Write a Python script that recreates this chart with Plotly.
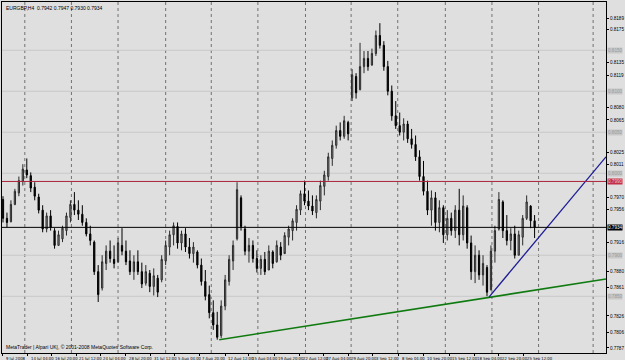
import plotly.graph_objects as go

# ---------------- data (EURGBP, H4; bars) ----------------
bar_open = [0.7968,0.7945,0.7941,0.7962,0.7976,0.7990,0.8004,0.7997,0.7983,0.7971,
            0.7955,0.7932,0.7948,0.7930,0.7912,0.7920,0.7930,0.7946,0.7962,0.7955,
            0.7950,0.7940,0.7926,0.7916,0.7880,0.7860,0.7890,0.7905,0.7895,0.7892,
            0.7912,0.7905,0.7893,0.7880,0.7892,0.7880,0.7866,0.7878,0.7862,0.7872,
            0.7870,0.7893,0.7910,0.7925,0.7935,0.7915,0.7926,0.7910,0.7902,0.7904,
            0.7888,0.7868,0.7852,0.7830,0.7815,0.7802,0.7838,0.7868,0.7893,0.7920,
            0.7970,0.7932,0.7905,0.7912,0.7896,0.7884,0.7895,0.7882,0.7904,0.7892,
            0.7910,0.7902,0.7922,0.7930,0.7940,0.7955,0.7975,0.7966,0.7960,0.7952,
            0.7966,0.7984,0.7996,0.8018,0.8034,0.8052,0.8045,0.8062,0.8092,0.8118,
            0.8102,0.8130,0.8140,0.8132,0.8146,0.8168,0.8156,0.8130,0.8100,0.8070,
            0.8058,0.8050,0.8060,0.8042,0.8035,0.8020,0.7996,0.7978,0.7955,0.7970,
            0.7940,0.7958,0.7925,0.7945,0.7930,0.7955,0.7925,0.7958,0.7915,0.7880,
            0.7900,0.7876,0.7885,0.7858,0.7905,0.7932,0.7965,0.7930,0.7918,0.7926,
            0.7900,0.7922,0.7945,0.7960,0.7942]
bar_high = [0.7972,0.7952,0.7967,0.7981,0.7996,0.8011,0.8018,0.8001,0.7989,0.7975,
            0.7961,0.7952,0.7955,0.7933,0.7930,0.7936,0.7952,0.7967,0.7977,0.7967,
            0.7961,0.7945,0.7936,0.7918,0.7888,0.7900,0.7912,0.7918,0.7912,0.7921,
            0.7933,0.7918,0.7906,0.7900,0.7906,0.7891,0.7888,0.7882,0.7884,0.7876,
            0.7900,0.7918,0.7930,0.7940,0.7940,0.7930,0.7933,0.7921,0.7916,0.7906,
            0.7896,0.7882,0.7863,0.7845,0.7831,0.7845,0.7876,0.7900,0.7918,0.7989,
            0.7973,0.7936,0.7921,0.7918,0.7906,0.7900,0.7904,0.7912,0.7906,0.7918,
            0.7916,0.7928,0.7936,0.7945,0.7961,0.7979,0.7991,0.7979,0.7973,0.7973,
            0.7991,0.8003,0.8025,0.8040,0.8058,0.8062,0.8070,0.8064,0.8127,0.8122,
            0.8159,0.8149,0.8149,0.8152,0.8174,0.8183,0.8161,0.8137,0.8107,0.8088,
            0.8074,0.8067,0.8064,0.8054,0.8046,0.8028,0.8015,0.7991,0.7979,0.7977,
            0.7967,0.7961,0.7955,0.7952,0.7961,0.7981,0.7973,0.7961,0.7924,0.7912,
            0.7906,0.7900,0.7888,0.7912,0.7936,0.7977,0.7967,0.7949,0.7933,0.7936,
            0.7930,0.7949,0.7973,0.7961,0.7949]
bar_low = [0.7940,0.7934,0.7940,0.7961,0.7972,0.7985,0.7994,0.7977,0.7967,0.7951,
           0.7928,0.7928,0.7930,0.7908,0.7912,0.7916,0.7924,0.7940,0.7949,0.7943,
           0.7936,0.7923,0.7912,0.7876,0.7843,0.7857,0.7882,0.7891,0.7884,0.7891,
           0.7900,0.7888,0.7876,0.7870,0.7876,0.7860,0.7863,0.7855,0.7851,0.7849,
           0.7867,0.7888,0.7900,0.7912,0.7908,0.7906,0.7904,0.7896,0.7891,0.7884,
           0.7863,0.7845,0.7823,0.7809,0.7797,0.7799,0.7833,0.7863,0.7882,0.7918,
           0.7930,0.7900,0.7891,0.7891,0.7879,0.7876,0.7876,0.7882,0.7884,0.7891,
           0.7894,0.7904,0.7912,0.7918,0.7930,0.7949,0.7961,0.7955,0.7949,0.7945,
           0.7955,0.7973,0.7991,0.8009,0.8030,0.8040,0.8042,0.8040,0.8088,0.8091,
           0.8101,0.8122,0.8125,0.8131,0.8143,0.8152,0.8125,0.8095,0.8064,0.8054,
           0.8046,0.8040,0.8037,0.8030,0.8015,0.7991,0.7973,0.7949,0.7936,0.7930,
           0.7928,0.7915,0.7918,0.7924,0.7921,0.7912,0.7918,0.7908,0.7870,0.7866,
           0.7870,0.7863,0.7850,0.7857,0.7891,0.7930,0.7921,0.7912,0.7906,0.7896,
           0.7900,0.7912,0.7943,0.7933,0.7921]
bar_close = [0.7945,0.7940,0.7962,0.7978,0.7991,0.8005,0.7998,0.7982,0.7972,0.7955,
             0.7932,0.7948,0.7934,0.7912,0.7925,0.7933,0.7948,0.7962,0.7955,0.7950,
             0.7940,0.7926,0.7918,0.7880,0.7852,0.7892,0.7905,0.7896,0.7890,0.7915,
             0.7905,0.7892,0.7880,0.7892,0.7880,0.7865,0.7880,0.7862,0.7875,0.7855,
             0.7895,0.7912,0.7925,0.7936,0.7915,0.7926,0.7910,0.7902,0.7910,0.7888,
             0.7868,0.7850,0.7830,0.7815,0.7800,0.7838,0.7870,0.7895,0.7912,0.7980,
             0.7935,0.7905,0.7912,0.7896,0.7884,0.7895,0.7880,0.7905,0.7890,0.7912,
             0.7900,0.7924,0.7932,0.7942,0.7956,0.7975,0.7966,0.7960,0.7954,0.7968,
             0.7985,0.7998,0.8020,0.8034,0.8052,0.8045,0.8064,0.8048,0.8120,0.8098,
             0.8130,0.8140,0.8130,0.8146,0.8168,0.8156,0.8130,0.8100,0.8070,0.8058,
             0.8050,0.8060,0.8042,0.8035,0.8020,0.7996,0.7978,0.7955,0.7970,0.7940,
             0.7958,0.7925,0.7945,0.7930,0.7955,0.7925,0.7960,0.7915,0.7880,0.7900,
             0.7876,0.7890,0.7855,0.7905,0.7930,0.7968,0.7930,0.7918,0.7926,0.7900,
             0.7925,0.7945,0.7965,0.7942,0.7934]
bar_index = list(range(len(bar_open)))

title_text = "EURGBP,H4  0.7942 0.7947 0.7930 0.7934"
copyright_text = "MetaTrader | Alpari UK|, \u00a9 2001-2008 MetaQuotes Software Corp."

date_labels = ["9 Jul 2008", "14 Jul 04:00", "16 Jul 20:00", "21 Jul 12:00", "24 Jul 04:00",
               "28 Jul 20:00", "31 Jul 12:00", "5 Aug 04:00", "7 Aug 20:00", "12 Aug 12:00",
               "15 Aug 04:00", "19 Aug 20:00", "22 Aug 12:00", "27 Aug 04:00", "29 Aug 20:00",
               "3 Sep 12:00", "8 Sep 04:00", "10 Sep 20:00", "15 Sep 12:00", "18 Sep 04:00",
               "22 Sep 20:00", "25 Sep 12:00"]
date_label_pos = [0, 6.25, 12.25, 18.5, 24.5, 31, 37.25, 43.25, 49.5, 56, 62, 68.5,
                  74.75, 80.75, 87, 93.25, 99.75, 106, 112.5, 118.75, 125, 131.25]
week_grid_pos = [5.5, 17.25, 29, 41, 52.5, 64.25, 76.25, 87.75, 99.5, 111.5, 123.25, 135, 148.75]

price_ticks = [0.8209, 0.8189, 0.8175, 0.8135, 0.8119, 0.8080, 0.8065, 0.8025, 0.8011,
               0.7970, 0.7956, 0.7916, 0.7880, 0.7861, 0.7826, 0.7806, 0.7787]
level_lines = [0.8150, 0.8100, 0.8050, 0.8000, 0.7900, 0.7850]
resistance_level = 0.7990
bid_level = 0.7934

green_trend_x = [54.5, 152]
green_trend_y = [0.7797, 0.7871]
blue_trend_x = [122.5, 152]
blue_trend_y = [0.7849, 0.8020]

# ---------------- figure ----------------
BG = "#dfdfdf"
FONT = "Liberation Sans, Arial, sans-serif"
NARROW = "Liberation Sans Narrow, DejaVu Sans Condensed, Liberation Sans, sans-serif"
fig = go.Figure()

shapes = []
for gx in week_grid_pos:
    shapes.append(dict(type="line", xref="x", yref="paper", x0=gx, x1=gx, y0=0, y1=1,
                       line=dict(color="#555555", width=0.8, dash="dot"), layer="below"))
for lv in level_lines:
    shapes.append(dict(type="line", xref="paper", yref="y", x0=0, x1=1, y0=lv, y1=lv,
                       line=dict(color="#c8c8c8", width=1), layer="below"))
shapes.append(dict(type="line", xref="paper", yref="y", x0=0, x1=1, y0=resistance_level,
                   y1=resistance_level, line=dict(color="#a8243a", width=1)))
shapes.append(dict(type="line", xref="paper", yref="y", x0=0, x1=1, y0=bid_level,
                   y1=bid_level, line=dict(color="#000000", width=1)))

fig.add_trace(go.Candlestick(
    x=bar_index, open=bar_open, high=bar_high, low=bar_low, close=bar_close,
    increasing=dict(line=dict(color="#2a2a2a", width=1), fillcolor="#9a9a9a"),
    decreasing=dict(line=dict(color="#000000", width=1), fillcolor="#000000"),
    whiskerwidth=0, showlegend=False, hoverinfo="skip"))

fig.add_trace(go.Scatter(x=green_trend_x, y=green_trend_y, mode="lines",
                         line=dict(color="#0f7a0f", width=1.6), showlegend=False,
                         hoverinfo="skip"))
fig.add_trace(go.Scatter(x=blue_trend_x, y=blue_trend_y, mode="lines",
                         line=dict(color="#1c1c96", width=1.3), showlegend=False,
                         hoverinfo="skip"))

annotations = []
annotations.append(dict(text=title_text, xref="paper", yref="paper", x=0.003, y=1,
                        xanchor="left", yanchor="top", yshift=-1, showarrow=False,
                        font=dict(family=FONT, size=5, color="#000000")))
annotations.append(dict(text=copyright_text, xref="paper", yref="paper", x=0.003, y=0,
                        xanchor="left", yanchor="bottom", yshift=1, showarrow=False,
                        font=dict(family=FONT, size=5, color="#000000")))
for pos, lab in zip(date_label_pos, date_labels):
    annotations.append(dict(text=lab, xref="x", yref="paper", x=pos, y=0,
                            xanchor="left", yanchor="top", xshift=1, yshift=-1,
                            showarrow=False,
                            font=dict(family=NARROW, size=4.2, color="#000000")))
for lv in level_lines:
    annotations.append(dict(text=f"{lv:.4f}", xref="paper", yref="y", x=1, y=lv,
                            xanchor="left", yanchor="middle", xshift=1, showarrow=False,
                            bgcolor="#c8c8c8", borderpad=0,
                            font=dict(family=FONT, size=4.6, color="#9a9a9a")))
annotations.append(dict(text=f"{resistance_level:.4f}", xref="paper", yref="y", x=1,
                        y=resistance_level, xanchor="left", yanchor="middle", xshift=1,
                        showarrow=False, bgcolor="#c23048", borderpad=0,
                        font=dict(family=FONT, size=4.6, color="#f0c0c8")))
annotations.append(dict(text=f"{bid_level:.4f}", xref="paper", yref="y", x=1,
                        y=bid_level, xanchor="left", yanchor="middle", xshift=1,
                        showarrow=False, bgcolor="#000000", borderpad=0,
                        font=dict(family=FONT, size=4.6, color="#ffffff")))

fig.update_layout(
    width=625, height=360,
    margin=dict(l=1, r=15, t=1, b=7),
    paper_bgcolor=BG, plot_bgcolor=BG,
    shapes=shapes, annotations=annotations,
    showlegend=False,
    boxgap=0.55,
    xaxis=dict(range=[-0.25, 152], rangeslider=dict(visible=False), showgrid=False,
               zeroline=False, showline=True, linecolor="#000000", linewidth=1, mirror=True,
               tickmode="array", tickvals=date_label_pos, ticks="outside", ticklen=2,
               tickcolor="#000000", showticklabels=False, fixedrange=True),
    yaxis=dict(range=[0.77808, 0.82088], side="right", showgrid=False, zeroline=False,
               showline=True, linecolor="#000000", linewidth=1, mirror=True,
               tickmode="array", tickvals=price_ticks,
               ticktext=[f"{v:.4f}" for v in price_ticks],
               ticks="outside", ticklen=2, tickcolor="#000000",
               tickfont=dict(family=FONT, size=4.6, color="#000000"), fixedrange=True),
)

fig.write_html("out.html")
